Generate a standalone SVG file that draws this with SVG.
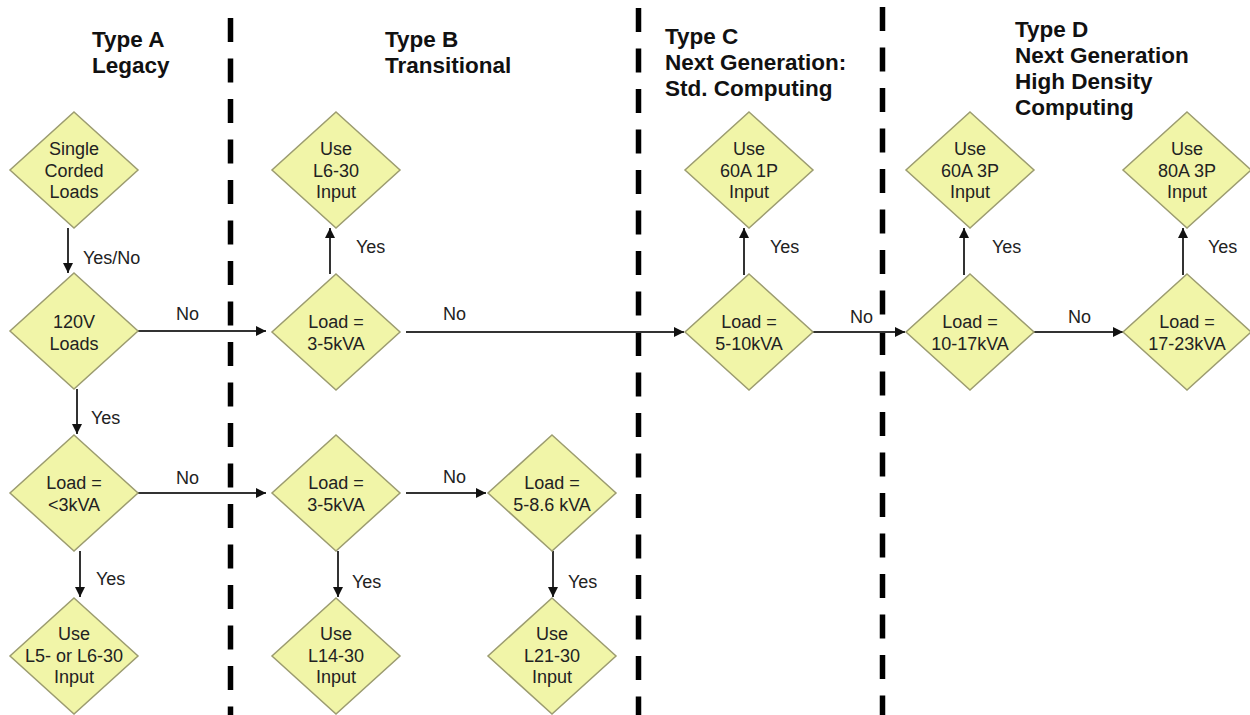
<svg xmlns="http://www.w3.org/2000/svg" xmlns:xlink="http://www.w3.org/1999/xlink" width="1250" height="715" viewBox="0 0 1250 715">
<style>
.dia{fill:#f1f5a8;stroke:#9c9c70;stroke-width:1.5}
.nt{font-family:"Liberation Sans",Arial,sans-serif;font-size:18px;fill:#222;text-anchor:middle}
.hd{font-family:"Liberation Sans",Arial,sans-serif;font-size:22.5px;font-weight:bold;fill:#111}
.lb{font-family:"Liberation Sans",Arial,sans-serif;font-size:18px;fill:#222}
.cn{stroke:#333;stroke-width:2;fill:none;marker-end:url(#ah)}
.sep{stroke:#000;stroke-width:5.5;stroke-dasharray:24 16.5;fill:none}
</style>
<defs>
<polygon id="d" points="0,-58 64,0 0,58 -64,0"/>
<marker id="ah" viewBox="0 0 10 10" refX="10" refY="5" markerWidth="10" markerHeight="10" markerUnits="userSpaceOnUse" orient="auto">
<path d="M0,0 L10,5 L0,10 z" fill="#111"/>
</marker>
</defs>
<rect width="1250" height="715" fill="#fff"/>
<g id="separators">
<line class="sep" x1="230.5" y1="18" x2="230.5" y2="715"/>
<line class="sep" x1="638.5" y1="8" x2="638.5" y2="715"/>
<line class="sep" x1="882.5" y1="7" x2="882.5" y2="715"/>
</g>
<g id="headers">
<text class="hd" x="92" y="47">Type A</text>
<text class="hd" x="92" y="73">Legacy</text>
<text class="hd" x="385" y="47">Type B</text>
<text class="hd" x="385" y="73">Transitional</text>
<text class="hd" x="665" y="44">Type C</text>
<text class="hd" x="665" y="70">Next Generation:</text>
<text class="hd" x="665" y="96">Std. Computing</text>
<text class="hd" x="1015" y="37">Type D</text>
<text class="hd" x="1015" y="63">Next Generation</text>
<text class="hd" x="1015" y="89">High Density</text>
<text class="hd" x="1015" y="115">Computing</text>
</g>
<g id="connectors">
<line class="cn" x1="68" y1="228" x2="68" y2="273"/>
<line class="cn" x1="77" y1="389" x2="77" y2="434"/>
<line class="cn" x1="138" y1="331" x2="266" y2="331"/>
<line class="cn" x1="80" y1="551" x2="80" y2="597"/>
<line class="cn" x1="138" y1="493" x2="266" y2="493"/>
<line class="cn" x1="330" y1="274" x2="330" y2="228"/>
<line class="cn" x1="406" y1="332" x2="684" y2="332"/>
<line class="cn" x1="338" y1="551" x2="338" y2="597"/>
<line class="cn" x1="406" y1="493" x2="486" y2="493"/>
<line class="cn" x1="553" y1="551" x2="553" y2="597"/>
<line class="cn" x1="744" y1="275" x2="744" y2="228"/>
<line class="cn" x1="813" y1="332" x2="905" y2="332"/>
<line class="cn" x1="964" y1="275" x2="964" y2="228"/>
<line class="cn" x1="1034" y1="332" x2="1123" y2="332"/>
<line class="cn" x1="1183" y1="275" x2="1183" y2="228"/>
<text class="lb" x="83" y="264">Yes/No</text>
<text class="lb" x="91" y="424">Yes</text>
<text class="lb" x="176" y="320">No</text>
<text class="lb" x="96" y="585">Yes</text>
<text class="lb" x="176" y="484">No</text>
<text class="lb" x="356" y="253">Yes</text>
<text class="lb" x="443" y="320">No</text>
<text class="lb" x="352" y="588">Yes</text>
<text class="lb" x="443" y="483">No</text>
<text class="lb" x="568" y="588">Yes</text>
<text class="lb" x="770" y="253">Yes</text>
<text class="lb" x="850" y="323">No</text>
<text class="lb" x="992" y="253">Yes</text>
<text class="lb" x="1068" y="323">No</text>
<text class="lb" x="1208" y="253">Yes</text>
</g>
<g id="n-single">
<use xlink:href="#d" class="dia" x="74" y="170"/>
<text class="nt" x="74" y="155">Single</text><text class="nt" x="74" y="177">Corded</text><text class="nt" x="74" y="198">Loads</text>
</g>
<g id="n-120v">
<use xlink:href="#d" class="dia" x="74" y="331"/>
<text class="nt" x="74" y="328">120V</text><text class="nt" x="74" y="350">Loads</text>
</g>
<g id="n-lt3">
<use xlink:href="#d" class="dia" x="74" y="493"/>
<text class="nt" x="74" y="489">Load =</text><text class="nt" x="74" y="511">&lt;3kVA</text>
</g>
<g id="n-l5l6">
<use xlink:href="#d" class="dia" x="74" y="656"/>
<text class="nt" x="74" y="640">Use</text><text class="nt" x="74" y="662">L5- or L6-30</text><text class="nt" x="74" y="683">Input</text>
</g>
<g id="n-l630">
<use xlink:href="#d" class="dia" x="336" y="170"/>
<text class="nt" x="336" y="155">Use</text><text class="nt" x="336" y="177">L6-30</text><text class="nt" x="336" y="198">Input</text>
</g>
<g id="n-35a">
<use xlink:href="#d" class="dia" x="336" y="332"/>
<text class="nt" x="336" y="328">Load =</text><text class="nt" x="336" y="350">3-5kVA</text>
</g>
<g id="n-35b">
<use xlink:href="#d" class="dia" x="336" y="493"/>
<text class="nt" x="336" y="489">Load =</text><text class="nt" x="336" y="511">3-5kVA</text>
</g>
<g id="n-l1430">
<use xlink:href="#d" class="dia" x="336" y="656"/>
<text class="nt" x="336" y="640">Use</text><text class="nt" x="336" y="662">L14-30</text><text class="nt" x="336" y="683">Input</text>
</g>
<g id="n-586">
<use xlink:href="#d" class="dia" x="552" y="493"/>
<text class="nt" x="552" y="489">Load =</text><text class="nt" x="552" y="511">5-8.6 kVA</text>
</g>
<g id="n-l2130">
<use xlink:href="#d" class="dia" x="552" y="656"/>
<text class="nt" x="552" y="640">Use</text><text class="nt" x="552" y="662">L21-30</text><text class="nt" x="552" y="683">Input</text>
</g>
<g id="n-60a1p">
<use xlink:href="#d" class="dia" x="749" y="170"/>
<text class="nt" x="749" y="155">Use</text><text class="nt" x="749" y="177">60A 1P</text><text class="nt" x="749" y="198">Input</text>
</g>
<g id="n-510">
<use xlink:href="#d" class="dia" x="749" y="332"/>
<text class="nt" x="749" y="328">Load =</text><text class="nt" x="749" y="350">5-10kVA</text>
</g>
<g id="n-60a3p">
<use xlink:href="#d" class="dia" x="970" y="170"/>
<text class="nt" x="970" y="155">Use</text><text class="nt" x="970" y="177">60A 3P</text><text class="nt" x="970" y="198">Input</text>
</g>
<g id="n-1017">
<use xlink:href="#d" class="dia" x="970" y="332"/>
<text class="nt" x="970" y="328">Load =</text><text class="nt" x="970" y="350">10-17kVA</text>
</g>
<g id="n-80a3p">
<use xlink:href="#d" class="dia" x="1187" y="170"/>
<text class="nt" x="1187" y="155">Use</text><text class="nt" x="1187" y="177">80A 3P</text><text class="nt" x="1187" y="198">Input</text>
</g>
<g id="n-1723">
<use xlink:href="#d" class="dia" x="1187" y="332"/>
<text class="nt" x="1187" y="328">Load =</text><text class="nt" x="1187" y="350">17-23kVA</text>
</g>
</svg>
